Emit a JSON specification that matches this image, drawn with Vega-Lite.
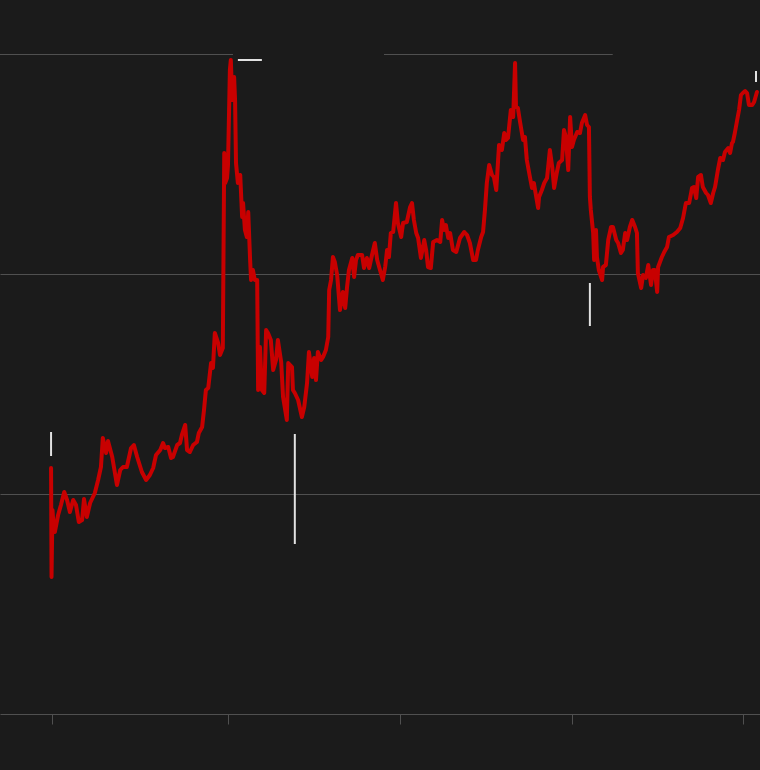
{
  "$schema": "https://vega.github.io/schema/vega-lite/v6.json",
  "width": 760,
  "height": 770,
  "autosize": {"type": "none"},
  "padding": 0,
  "background": "#1b1b1b",
  "config": {"view": {"stroke": null}},
  "datasets": {
    "price": [
      {"d": -2, "v": 123}, {"d": -1, "v": 68.5}, {"d": 1, "v": 102}, {"d": 4, "v": 92}, {"d": 6, "v": 91},
      {"d": 13, "v": 99.5}, {"d": 19, "v": 104.5}, {"d": 26, "v": 111}, {"d": 32, "v": 107}, {"d": 38, "v": 101},
      {"d": 45, "v": 107}, {"d": 51, "v": 104.5}, {"d": 57, "v": 96}, {"d": 64, "v": 97}, {"d": 68, "v": 107.5},
      {"d": 74, "v": 98.5}, {"d": 81, "v": 105.5}, {"d": 91, "v": 110.5}, {"d": 98, "v": 117}, {"d": 104, "v": 123.5},
      {"d": 108, "v": 138}, {"d": 115, "v": 130.5}, {"d": 119, "v": 136.5}, {"d": 128, "v": 128.5}, {"d": 138, "v": 114.5},
      {"d": 145, "v": 122}, {"d": 151, "v": 123.5}, {"d": 159, "v": 123.5}, {"d": 168, "v": 133}, {"d": 174, "v": 134.5},
      {"d": 181, "v": 128.5}, {"d": 191, "v": 121}, {"d": 200, "v": 117}, {"d": 208, "v": 119.5}, {"d": 215, "v": 123},
      {"d": 221, "v": 129.5}, {"d": 230, "v": 132}, {"d": 236, "v": 135.5}, {"d": 240, "v": 133}, {"d": 247, "v": 133.5},
      {"d": 253, "v": 128}, {"d": 257, "v": 128.5}, {"d": 266, "v": 134.5}, {"d": 272, "v": 135.5}, {"d": 276, "v": 139.5},
      {"d": 283, "v": 144.5}, {"d": 287, "v": 132}, {"d": 293, "v": 131}, {"d": 300, "v": 134.5}, {"d": 308, "v": 136},
      {"d": 312, "v": 140.5}, {"d": 319, "v": 143.5}, {"d": 323, "v": 152}, {"d": 327, "v": 162}, {"d": 332, "v": 163},
      {"d": 338, "v": 175.5}, {"d": 342, "v": 173}, {"d": 346, "v": 190.5}, {"d": 353, "v": 185.5}, {"d": 357, "v": 179.5},
      {"d": 363, "v": 183}, {"d": 366, "v": 280.5}, {"d": 368, "v": 265.5}, {"d": 372, "v": 268}, {"d": 374, "v": 274.5},
      {"d": 378, "v": 322}, {"d": 380, "v": 327}, {"d": 383, "v": 307}, {"d": 387, "v": 318.5}, {"d": 389, "v": 307},
      {"d": 391, "v": 275.5}, {"d": 395, "v": 265.5}, {"d": 400, "v": 269.5}, {"d": 404, "v": 248.5}, {"d": 406, "v": 255.5},
      {"d": 410, "v": 242}, {"d": 414, "v": 238.5}, {"d": 417, "v": 251}, {"d": 421, "v": 227}, {"d": 423, "v": 217},
      {"d": 427, "v": 222}, {"d": 431, "v": 217}, {"d": 436, "v": 217}, {"d": 438, "v": 162}, {"d": 442, "v": 183.5},
      {"d": 446, "v": 162}, {"d": 451, "v": 160.5}, {"d": 455, "v": 192}, {"d": 459, "v": 190.5}, {"d": 465, "v": 187},
      {"d": 470, "v": 172}, {"d": 476, "v": 177}, {"d": 480, "v": 187}, {"d": 487, "v": 176}, {"d": 491, "v": 158.5},
      {"d": 499, "v": 147}, {"d": 502, "v": 175.5}, {"d": 510, "v": 173.5}, {"d": 512, "v": 162}, {"d": 516, "v": 160.5},
      {"d": 523, "v": 157}, {"d": 531, "v": 148.5}, {"d": 536, "v": 153.5}, {"d": 542, "v": 165.5}, {"d": 546, "v": 181},
      {"d": 553, "v": 168.5}, {"d": 557, "v": 178}, {"d": 561, "v": 167}, {"d": 565, "v": 181}, {"d": 572, "v": 177},
      {"d": 576, "v": 178.5}, {"d": 582, "v": 182}, {"d": 587, "v": 188.5}, {"d": 589, "v": 212}, {"d": 593, "v": 217},
      {"d": 597, "v": 228.5}, {"d": 601, "v": 226}, {"d": 606, "v": 219.5}, {"d": 612, "v": 202}, {"d": 618, "v": 211},
      {"d": 623, "v": 203}, {"d": 627, "v": 213.5}, {"d": 631, "v": 222}, {"d": 638, "v": 228}, {"d": 642, "v": 218.5},
      {"d": 646, "v": 227}, {"d": 650, "v": 229.5}, {"d": 659, "v": 229.5}, {"d": 663, "v": 223}, {"d": 669, "v": 228},
      {"d": 674, "v": 223}, {"d": 680, "v": 229.5}, {"d": 686, "v": 235.5}, {"d": 691, "v": 227}, {"d": 697, "v": 222},
      {"d": 703, "v": 217}, {"d": 708, "v": 223.5}, {"d": 712, "v": 232}, {"d": 716, "v": 228.5}, {"d": 720, "v": 240.5},
      {"d": 725, "v": 241}, {"d": 731, "v": 255.5}, {"d": 735, "v": 245.5}, {"d": 742, "v": 238.5}, {"d": 746, "v": 245.5},
      {"d": 754, "v": 246}, {"d": 761, "v": 253.5}, {"d": 765, "v": 255.5}, {"d": 769, "v": 247}, {"d": 774, "v": 240.5},
      {"d": 778, "v": 238}, {"d": 784, "v": 228}, {"d": 791, "v": 237}, {"d": 795, "v": 232}, {"d": 799, "v": 223.5},
      {"d": 805, "v": 223}, {"d": 810, "v": 236}, {"d": 818, "v": 237}, {"d": 825, "v": 236}, {"d": 829, "v": 247},
      {"d": 833, "v": 242}, {"d": 837, "v": 244.5}, {"d": 842, "v": 238}, {"d": 846, "v": 240.5}, {"d": 852, "v": 232},
      {"d": 859, "v": 231}, {"d": 867, "v": 238}, {"d": 876, "v": 241}, {"d": 882, "v": 239.5}, {"d": 888, "v": 235.5},
      {"d": 895, "v": 227}, {"d": 901, "v": 227}, {"d": 905, "v": 232}, {"d": 912, "v": 238.5}, {"d": 916, "v": 241},
      {"d": 920, "v": 252}, {"d": 924, "v": 265.5}, {"d": 929, "v": 274.5}, {"d": 935, "v": 269.5}, {"d": 939, "v": 268.5},
      {"d": 944, "v": 262}, {"d": 948, "v": 277}, {"d": 950, "v": 284.5}, {"d": 956, "v": 282}, {"d": 961, "v": 290.5},
      {"d": 965, "v": 287}, {"d": 969, "v": 288}, {"d": 975, "v": 302}, {"d": 980, "v": 298.5}, {"d": 984, "v": 325.5},
      {"d": 986, "v": 303.5}, {"d": 990, "v": 303}, {"d": 995, "v": 295.5}, {"d": 1001, "v": 287}, {"d": 1005, "v": 288.5},
      {"d": 1009, "v": 277}, {"d": 1014, "v": 270.5}, {"d": 1020, "v": 263}, {"d": 1024, "v": 265.5}, {"d": 1029, "v": 258.5},
      {"d": 1033, "v": 253}, {"d": 1035, "v": 258.5}, {"d": 1041, "v": 262}, {"d": 1046, "v": 265.5}, {"d": 1052, "v": 268},
      {"d": 1058, "v": 282}, {"d": 1063, "v": 273.5}, {"d": 1067, "v": 263}, {"d": 1073, "v": 271}, {"d": 1077, "v": 275.5},
      {"d": 1084, "v": 277}, {"d": 1088, "v": 292}, {"d": 1092, "v": 288.5}, {"d": 1097, "v": 272}, {"d": 1101, "v": 298.5},
      {"d": 1105, "v": 283.5}, {"d": 1109, "v": 287}, {"d": 1116, "v": 291}, {"d": 1122, "v": 290.5}, {"d": 1126, "v": 295.5},
      {"d": 1133, "v": 299.5}, {"d": 1137, "v": 294.5}, {"d": 1141, "v": 293.5}, {"d": 1143, "v": 258.5}, {"d": 1145, "v": 252},
      {"d": 1150, "v": 240.5}, {"d": 1152, "v": 227}, {"d": 1156, "v": 242}, {"d": 1158, "v": 228.5}, {"d": 1162, "v": 222},
      {"d": 1169, "v": 217}, {"d": 1171, "v": 223.5}, {"d": 1177, "v": 224.5}, {"d": 1182, "v": 237}, {"d": 1188, "v": 243.5},
      {"d": 1192, "v": 243.5}, {"d": 1199, "v": 237}, {"d": 1203, "v": 235.5}, {"d": 1209, "v": 230.5}, {"d": 1213, "v": 232},
      {"d": 1218, "v": 240.5}, {"d": 1222, "v": 237}, {"d": 1228, "v": 243.5}, {"d": 1233, "v": 247}, {"d": 1239, "v": 243.5},
      {"d": 1243, "v": 240.5}, {"d": 1245, "v": 220.5}, {"d": 1252, "v": 213}, {"d": 1256, "v": 219.5}, {"d": 1262, "v": 218},
      {"d": 1267, "v": 224.5}, {"d": 1273, "v": 214.5}, {"d": 1277, "v": 222}, {"d": 1281, "v": 222}, {"d": 1286, "v": 211},
      {"d": 1288, "v": 223.5}, {"d": 1296, "v": 228.5}, {"d": 1301, "v": 231}, {"d": 1307, "v": 233.5}, {"d": 1311, "v": 238.5},
      {"d": 1320, "v": 239.5}, {"d": 1328, "v": 241}, {"d": 1335, "v": 243}, {"d": 1341, "v": 248}, {"d": 1347, "v": 255.5},
      {"d": 1354, "v": 255.5}, {"d": 1360, "v": 263}, {"d": 1364, "v": 263.5}, {"d": 1369, "v": 258}, {"d": 1373, "v": 268.5},
      {"d": 1379, "v": 269.5}, {"d": 1383, "v": 263.5}, {"d": 1390, "v": 260.5}, {"d": 1394, "v": 259.5}, {"d": 1400, "v": 255.5},
      {"d": 1405, "v": 260.5}, {"d": 1409, "v": 263.5}, {"d": 1415, "v": 272}, {"d": 1420, "v": 278}, {"d": 1426, "v": 277},
      {"d": 1430, "v": 281}, {"d": 1437, "v": 283}, {"d": 1441, "v": 280.5}, {"d": 1445, "v": 285.5}, {"d": 1447, "v": 286},
      {"d": 1451, "v": 290.5}, {"d": 1456, "v": 297}, {"d": 1460, "v": 302}, {"d": 1464, "v": 309.5}, {"d": 1468, "v": 310.5},
      {"d": 1473, "v": 311.5}, {"d": 1477, "v": 310.5}, {"d": 1481, "v": 304.5}, {"d": 1488, "v": 304.5}, {"d": 1492, "v": 306},
      {"d": 1498, "v": 311}
    ],
    "lines": [
      {"d": -110.5, "d2": 384.6, "v": 329.75, "v2": 329.75},
      {"d": 705.5, "d2": 1191.5, "v": 329.75, "v2": 329.75}
    ],
    "notes": [
      {"d": -2, "d2": -2, "v": 141, "v2": 129},
      {"d": 395, "d2": 446, "v": 327, "v2": 327},
      {"d": 516, "d2": 516, "v": 140, "v2": 85},
      {"d": 1143, "d2": 1143, "v": 215.5, "v2": 194},
      {"d": 1496, "d2": 1496, "v": 321.5, "v2": 316}
    ]
  },
  "encoding": {
    "x": {
      "field": "d", "type": "quantitative",
      "scale": {"domain": [-110.5, 1504.5], "nice": false, "zero": false},
      "axis": {"orient": "bottom", "offset": -56, "values": [0, 374, 739, 1104, 1469], "labels": false, "title": null, "grid": false, "domainColor": "#505050", "domainWidth": 1, "tickColor": "#505050", "tickSize": 10, "tickWidth": 1}
    },
    "y": {
      "field": "v", "type": "quantitative",
      "scale": {"domain": [-28, 357], "nice": false, "zero": false},
      "axis": {"values": [110, 220], "grid": true, "gridColor": "#505050", "gridWidth": 1, "domain": false, "ticks": false, "labels": false, "title": null}
    }
  },
  "layer": [
    {
      "data": {"name": "lines"},
      "mark": {"type": "rule", "color": "#505050", "strokeWidth": 1},
      "encoding": {"x2": {"field": "d2"}, "y2": {"field": "v2"}}
    },
    {
      "data": {"name": "price"},
      "mark": {"type": "line", "color": "#c80000", "strokeWidth": 4, "strokeJoin": "round", "strokeCap": "round"}
    },
    {
      "data": {"name": "notes"},
      "mark": {"type": "rule", "color": "#e2e2e2", "strokeWidth": 2},
      "encoding": {"x2": {"field": "d2"}, "y2": {"field": "v2"}}
    }
  ]
}
